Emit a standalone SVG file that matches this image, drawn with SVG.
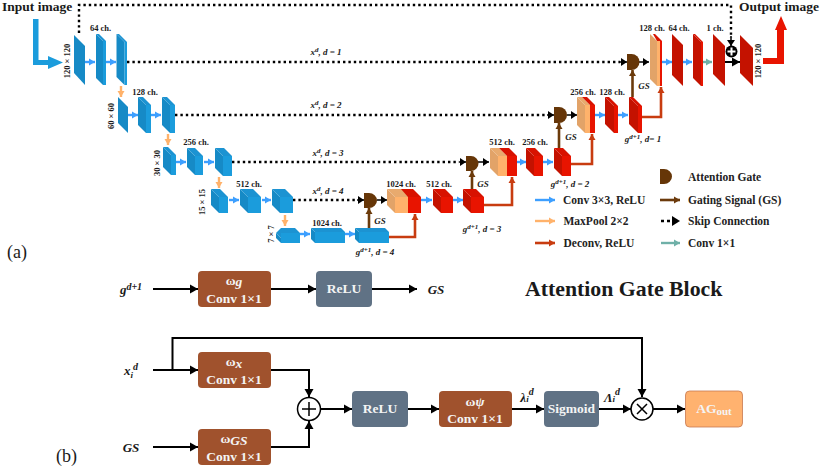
<svg xmlns="http://www.w3.org/2000/svg" width="820" height="468" viewBox="0 0 820 468">
<style>
text{font-family:"Liberation Serif","Times New Roman",serif;font-weight:bold;fill:#1a1a1a}
.ch{font-size:8.5px;text-anchor:middle}
.dim{font-size:8.5px;text-anchor:middle}
.it{font-style:italic;font-size:9px;text-anchor:middle}
.lg{font-size:11.5px;fill:#222}
.big{font-size:13.5px}
.bx{font-size:13.5px;fill:#f4f4f4;text-anchor:middle}
.lab{font-style:italic;font-size:13px;text-anchor:middle}
.bs{fill:#168ac6}.bt{fill:#1c93d2}.bf{fill:#1b9cdc}
.rs{fill:#c41200}.rt{fill:#d81200}.rf{fill:#e81400}
.os{fill:#e2a368}.ot{fill:#e8aa6e}.of{fill:#ffb26b}
.gate{fill:#663608}
.skip{stroke:#000;stroke-width:2.4;stroke-dasharray:2.4 3;fill:none}
.conv{stroke:#3d9fff;stroke-width:2.4;fill:none;marker-end:url(#mb)}
.pool{stroke:#ffb26b;stroke-width:2.4;fill:none;marker-end:url(#mo)}
.dec{stroke:#c83c10;stroke-width:2.6;fill:none;marker-end:url(#md)}
.gs{stroke:#6b3a0b;stroke-width:2.6;fill:none;marker-end:url(#mg)}
.c1{stroke:#6fb0a8;stroke-width:2.4;fill:none;marker-end:url(#mt)}
.blk{stroke:#000;stroke-width:2;fill:none;marker-end:url(#mk)}
.sk{stroke:#000;stroke-width:1.5;fill:none;marker-end:url(#ms)}
.bl{stroke:#000;stroke-width:1.5;fill:none}
.brn{fill:#a0522d}.sl{fill:#607285}
</style>
<defs>
<marker id="mb" markerUnits="userSpaceOnUse" markerWidth="8" markerHeight="8" refX="6" refY="4" orient="auto"><path d="M0,.5L6,4L0,7.5z" fill="#3d9fff"/></marker>
<marker id="mo" markerUnits="userSpaceOnUse" markerWidth="8" markerHeight="8" refX="6" refY="4" orient="auto"><path d="M0,.5L6,4L0,7.5z" fill="#ffb26b"/></marker>
<marker id="md" markerUnits="userSpaceOnUse" markerWidth="8" markerHeight="8" refX="6" refY="4" orient="auto"><path d="M0,.5L6,4L0,7.5z" fill="#c83c10"/></marker>
<marker id="mg" markerUnits="userSpaceOnUse" markerWidth="8" markerHeight="8" refX="6" refY="4" orient="auto"><path d="M0,.5L6,4L0,7.5z" fill="#6b3a0b"/></marker>
<marker id="mt" markerUnits="userSpaceOnUse" markerWidth="8" markerHeight="8" refX="6" refY="4" orient="auto"><path d="M0,.5L6,4L0,7.5z" fill="#6fb0a8"/></marker>
<marker id="mk" markerUnits="userSpaceOnUse" markerWidth="10" markerHeight="10" refX="8" refY="5" orient="auto"><path d="M0,.5L8,5L0,9.500z" fill="#000"/></marker>
<marker id="ms" markerUnits="userSpaceOnUse" markerWidth="8" markerHeight="10" refX="6" refY="4" orient="auto"><path d="M0,0L6,4L0,8z" fill="#000"/></marker>
</defs>

<g id="connectors">
<path class="skip" d="M79,33V5H731V38"/>
<path class="sk" d="M731,36V46"/>
<path class="skip" d="M127,62H620"/><path class="sk" d="M620,62H627"/><path class="sk" d="M639,62H649"/>
<path class="skip" d="M175,115H547"/><path class="sk" d="M547,115H554"/><path class="sk" d="M567,115H577"/>
<path class="skip" d="M232,162H459"/><path class="sk" d="M459,162H466"/><path class="sk" d="M478,162H489"/>
<path class="skip" d="M293,200H357"/><path class="sk" d="M357,200H364"/><path class="sk" d="M377,200H387"/>
<path class="conv" d="M85,62H95"/><path class="conv" d="M106,62H116"/>
<path class="conv" d="M128,115H138"/><path class="conv" d="M151,115H161"/>
<path class="conv" d="M176,162H186"/><path class="conv" d="M204,162H214"/>
<path class="conv" d="M229,200H239"/><path class="conv" d="M262,200H271"/>
<path class="conv" d="M300,234H310"/><path class="conv" d="M345,234H355"/>
<path class="conv" d="M421,200H432"/><path class="conv" d="M453,200H463"/>
<path class="conv" d="M517,162H526"/><path class="conv" d="M543,162H553"/>
<path class="conv" d="M595,115H605"/><path class="conv" d="M618,115H628"/>
<path class="conv" d="M662,62H672"/><path class="conv" d="M683,62H692"/>
<path class="c1" d="M703,62H712"/>
<path class="blk" d="M725,62H740"/>
<path class="pool" d="M121,86V97"/><path class="pool" d="M168,134V145"/><path class="pool" d="M219,177V188"/><path class="pool" d="M285,215V226"/>
<path class="dec" d="M389,237H415V214"/><path class="dec" d="M484,205H512V177"/><path class="dec" d="M571,164H592V134"/><path class="dec" d="M642,117H661V87"/>
<path class="gs" d="M369,228V208"/><path class="gs" d="M472,189V171"/><path class="gs" d="M559,148V123"/><path class="gs" d="M632.500,97V70"/>
<path class="conv" d="M535,200H555"/>
<path class="pool" d="M535,221H555"/>
<path class="dec" d="M535,243H555"/>
<path class="gs" d="M660,200H680"/>
<path class="c1" d="M661,243H680"/>
<path d="M661,221h3M667,221h3" stroke="#000" stroke-width="2.400"/>
<path d="M672,216L680,221L672,226z" fill="#000"/>

<path class="blk" d="M153,289H198"/><path class="blk" d="M271,289H316"/><path class="blk" d="M372,289H417"/>
<path class="blk" d="M153,370H198"/>
<path class="blk" d="M172.500,370V338H642V397"/>
<path class="blk" d="M271,370H309V397"/>
<path class="blk" d="M153,447H198"/>
<path class="blk" d="M271,447H309V421"/>
<path class="blk" d="M320,409H352"/><path class="blk" d="M408,409H439"/><path class="blk" d="M512,409H544"/><path class="blk" d="M599,409H631"/><path class="blk" d="M653,409H685"/>
</g>

<g id="input-arrow"><path d="M33,19H38.500V60H48V56L63,62.500L48,69V65H33z" fill="#1b9cdc"/></g>
<g id="output-arrow"><path d="M763,58H777V30H775L781,16L787,30H784V64H763z" fill="#e81400"/></g>

<g id="e1a"><polygon class="bs" points="74,35 85,46 85,85 74,73"/></g>
<g id="e1b"><polygon class="bs" points="96,34 103,41 103,85 96,78"/><polygon class="bt" points="96,34 99,34 106,41 103,41"/><rect class="bf" x="103" y="41" width="3" height="44"/></g>
<g id="e1c"><polygon class="bs" points="116.500,34 124.500,42 124.500,85 116.500,77"/><polygon class="bt" points="116.500,34 119,34 127,42 124.500,42"/><rect class="bf" x="124.500" y="42" width="2.500" height="43"/></g>
<g id="e2a"><polygon class="bs" points="118,97 128,107 128,133 118,123"/></g>
<g id="e2b"><polygon class="bs" points="138,97 146,105 146,133 138,125"/><polygon class="bt" points="138,97 143,97 151,105 146,105"/><rect class="bf" x="146" y="105" width="5" height="28"/></g>
<g id="e2c"><polygon class="bs" points="162,97 170,105 170,133 162,125"/><polygon class="bt" points="162,97 167,97 175,105 170,105"/><rect class="bf" x="170" y="105" width="5" height="28"/></g>
<g id="e3a"><polygon class="bs" points="163,147 171,155 171,175 163,167"/><polygon class="bt" points="163,147 168,147 176,155 171,155"/><rect class="bf" x="171" y="155" width="5" height="20"/></g>
<g id="e3b"><polygon class="bs" points="187,148 195,156 195,175 187,167"/><polygon class="bt" points="187,148 195,148 203,156 195,156"/><rect class="bf" x="195" y="156" width="8" height="19"/></g>
<g id="e3c"><polygon class="bs" points="215,148 223,156 223,176 215,168"/><polygon class="bt" points="215,148 224,148 232,156 223,156"/><rect class="bf" x="223" y="156" width="9" height="20"/></g>
<g id="e4a"><polygon class="bs" points="211,189 219,197 219,213 211,205"/><polygon class="bt" points="211,189 220,189 228,197 219,197"/><rect class="bf" x="219" y="197" width="9" height="16"/></g>
<g id="e4b"><polygon class="bs" points="240,189 248,197 248,213 240,205"/><polygon class="bt" points="240,189 253,189 261,197 248,197"/><rect class="bf" x="248" y="197" width="13" height="16"/></g>
<g id="e4c"><polygon class="bs" points="272,189 280,197 280,213 272,205"/><polygon class="bt" points="272,189 285,189 293,197 280,197"/><rect class="bf" x="280" y="197" width="13" height="16"/></g>
<g id="e5a"><polygon class="bs" points="276,233 281,238 281,243 276,238"/><polygon class="bt" points="276,233 281,228 295,228 300,233 281,238"/><rect class="bf" x="281" y="233" width="19" height="10"/></g>
<g id="e5b"><polygon class="bs" points="311,228 315,232 315,243 311,239"/><polygon class="bt" points="311,228 341,228 345,232 315,232"/><rect class="bf" x="315" y="232" width="30" height="11"/></g>
<g id="e5c"><polygon class="bs" points="355,228 359,232 359,243 355,239"/><polygon class="bt" points="355,228 385,228 389,232 359,232"/><rect class="bf" x="359" y="232" width="30" height="11"/></g>

<g id="d4c"><polygon class="os" points="387,189 395,197 395,213 387,205"/><polygon class="ot" points="387,189 402,189 410,197 395,197"/><rect class="of" x="395" y="197" width="13" height="16"/><polygon class="rt" points="401,189 413,189 421,197 408,197"/><rect class="rf" x="408" y="197" width="13" height="16"/></g>
<g id="d4a"><polygon class="rs" points="433,189 441,197 441,213 433,205"/><polygon class="rt" points="433,189 445,189 453,197 441,197"/><rect class="rf" x="441" y="197" width="12" height="16"/></g>
<g id="d4b"><polygon class="rs" points="463,189 471,197 471,213 463,205"/><polygon class="rt" points="463,189 476,189 484,197 471,197"/><rect class="rf" x="471" y="197" width="13" height="16"/></g>
<g id="d3c"><polygon class="os" points="490,148 498,156 498,176 490,168"/><polygon class="ot" points="490,148 499,148 507,156 498,156"/><rect class="of" x="498" y="156" width="9" height="20"/><polygon class="rt" points="499,148 509,148 517,156 507,156"/><rect class="rf" x="507" y="156" width="10" height="20"/></g>
<g id="d3a"><polygon class="rs" points="526,148 534,156 534,176 526,168"/><polygon class="rt" points="526,148 535,148 543,156 534,156"/><rect class="rf" x="534" y="156" width="9" height="20"/></g>
<g id="d3b"><polygon class="rs" points="554,148 562,156 562,176 554,168"/><polygon class="rt" points="554,148 563,148 571,156 562,156"/><rect class="rf" x="562" y="156" width="9" height="20"/></g>
<g id="d2c"><polygon class="os" points="577,97 585,105 585,133 577,125"/><polygon class="ot" points="577,97 582,97 590,105 585,105"/><rect class="of" x="585" y="105" width="5" height="28"/><polygon class="rt" points="582,97 587,97 595,105 590,105"/><rect class="rf" x="590" y="105" width="5" height="28"/></g>
<g id="d2a"><polygon class="rs" points="605,97 614,106 614,133 605,124"/><polygon class="rt" points="605,97 609,97 618,106 614,106"/><rect class="rf" x="614" y="106" width="4" height="27"/></g>
<g id="d2b"><polygon class="rs" points="629,97 638,106 638,133 629,124"/><polygon class="rt" points="629,97 633,97 642,106 638,106"/><rect class="rf" x="638" y="106" width="4" height="27"/></g>
<g id="d1c"><polygon class="os" points="650,34 657,41 657,86 650,79"/><polygon class="rt" points="653,34 655,34 662,41 657,41"/><rect class="of" x="657" y="41" width="3" height="45"/><rect class="rf" x="660" y="41" width="2" height="45"/></g>
<g id="d1a"><polygon class="rs" points="672,34 683,45 683,86 672,75"/></g>
<g id="d1b"><polygon class="rs" points="693,34 701,42 701,86 693,78"/><polygon class="rt" points="693,34 695,34 703,42 701,42"/><rect class="rf" x="701" y="42" width="2" height="44"/></g>
<g id="d1d"><polygon class="rs" points="713,34 725,46 725,86 713,74"/></g>
<g id="d0"><polygon class="rs" points="740,35 753,48 753,86 740,73"/></g>

<g id="gate4"><path class="gate" d="M364,193H369A8,7.500 0 0 1 369,208H364z"/></g>
<g id="gate3"><path class="gate" d="M466,156H471A7.500,7.500 0 0 1 471,171H466z"/></g>
<g id="gate2"><path class="gate" d="M554,107H559A8,8 0 0 1 559,123H554z"/></g>
<g id="gate1"><path class="gate" d="M627,54H631.500A8,8 0 0 1 631.500,70H627z"/></g>
<g id="add"><circle cx="731.500" cy="51.500" r="6" fill="#000"/><path d="M727.500,51.500h8M731.500,47.500v8" stroke="#fff" stroke-width="2"/></g>
<g id="legend-gate"><path class="gate" d="M660,169H664A8,7.500 0 0 1 664,184H660z"/></g>

<text class="big" x="2" y="11">Input image</text>
<text class="big" x="739" y="11">Output image</text>
<text class="ch" x="100.500" y="31">64 ch.</text>
<text class="ch" x="145" y="95">128 ch.</text>
<text class="ch" x="196" y="145">256 ch.</text>
<text class="ch" x="249" y="187">512 ch.</text>
<text class="ch" x="327" y="226">1024 ch.</text>
<text class="ch" x="401" y="187">1024 ch.</text>
<text class="ch" x="439" y="187">512 ch.</text>
<text class="ch" x="502" y="145">512 ch.</text>
<text class="ch" x="535" y="145">256 ch.</text>
<text class="ch" x="583" y="95">256 ch.</text>
<text class="ch" x="612" y="95">128 ch.</text>
<text class="ch" x="652" y="31">128 ch.</text>
<text class="ch" x="679" y="31">64 ch.</text>
<text class="ch" x="715" y="31">1 ch.</text>
<text class="dim" transform="translate(70,61) rotate(-90)">120 × 120</text>
<text class="dim" transform="translate(114,116) rotate(-90)">60 × 60</text>
<text class="dim" transform="translate(159.500,163) rotate(-90)">30 × 30</text>
<text class="dim" transform="translate(205,202) rotate(-90)">15 × 15</text>
<text class="dim" transform="translate(273.500,234) rotate(-90)">7 × 7</text>
<text class="dim" transform="translate(761,61) rotate(-90)">120 × 120</text>
<text class="it" x="326" y="55">x<tspan font-size="7" dy="-3">d</tspan><tspan dy="3">, d = 1</tspan></text>
<text class="it" x="326" y="108">x<tspan font-size="7" dy="-3">d</tspan><tspan dy="3">, d = 2</tspan></text>
<text class="it" x="328" y="156">x<tspan font-size="7" dy="-3">d</tspan><tspan dy="3">, d = 3</tspan></text>
<text class="it" x="328" y="194">x<tspan font-size="7" dy="-3">d</tspan><tspan dy="3">, d = 4</tspan></text>
<text class="it" x="375" y="255">g<tspan font-size="7" dy="-3">d+1</tspan><tspan dy="3">, d = 4</tspan></text>
<text class="it" x="482" y="232">g<tspan font-size="7" dy="-3">d+1</tspan><tspan dy="3">, d = 3</tspan></text>
<text class="it" x="570" y="187">g<tspan font-size="7" dy="-3">d+1</tspan><tspan dy="3">, d = 2</tspan></text>
<text class="it" x="643" y="142">g<tspan font-size="7" dy="-3">d+1</tspan><tspan dy="3">, d= 1</tspan></text>
<text class="it" x="380" y="224">GS</text>
<text class="it" x="483" y="187">GS</text>
<text class="it" x="571" y="140">GS</text>
<text class="it" x="644" y="89">GS</text>

<text class="lg" x="563" y="204">Conv 3×3, ReLU</text>
<text class="lg" x="563.500" y="225">MaxPool 2×2</text>
<text class="lg" x="563.500" y="247">Deconv, ReLU</text>
<text class="lg" x="688" y="181">Attention Gate</text>
<text class="lg" x="688" y="204">Gating Signal (GS)</text>
<text class="lg" x="688" y="225">Skip Connection</text>
<text class="lg" x="688" y="247">Conv 1×1</text>
<text x="7" y="258" font-size="18" style="font-weight:normal">(a)</text>
<text x="56" y="462" font-size="18" style="font-weight:normal">(b)</text>
<text x="525" y="296" font-size="21.800">Attention Gate Block</text>

<g id="bg"><rect class="brn" x="198" y="271" width="73" height="36" rx="4"/><text class="bx" x="234" y="285">ω<tspan font-style="italic" dy="1">g</tspan></text><text class="bx" x="234" y="303">Conv 1×1</text></g>
<g id="br1"><rect class="sl" x="316" y="271" width="56" height="36" rx="4"/><text class="bx" x="344" y="293">ReLU</text></g>
<g id="bx"><rect class="brn" x="198" y="352" width="73" height="36" rx="4"/><text class="bx" x="234" y="366">ω<tspan font-style="italic" dy="2">x</tspan></text><text class="bx" x="234" y="384">Conv 1×1</text></g>
<g id="bgs"><rect class="brn" x="198" y="429" width="73" height="36" rx="4"/><text class="bx" x="234" y="443">ω<tspan font-style="italic" dy="2">GS</tspan></text><text class="bx" x="234" y="461">Conv 1×1</text></g>
<g id="plus"><circle cx="309" cy="409" r="11.500" fill="#fff" stroke="#000" stroke-width="1.500"/><path class="bl" d="M302,409h14M309,402v14"/></g>
<g id="br2"><rect class="sl" x="352" y="391" width="56" height="36" rx="4"/><text class="bx" x="380" y="413">ReLU</text></g>
<g id="bpsi"><rect class="brn" x="439" y="391" width="73" height="36" rx="4"/><text class="bx" x="475" y="406">ω<tspan font-style="italic">ψ</tspan></text><text class="bx" x="475" y="423">Conv 1×1</text></g>
<g id="bsig"><rect class="sl" x="544" y="391" width="55" height="36" rx="4"/><text class="bx" x="571.500" y="413">Sigmoid</text></g>
<g id="times"><circle cx="642" cy="409" r="11" fill="#fff" stroke="#000" stroke-width="1.500"/><path class="bl" d="M637,404l10,10M647,404l-10,10"/></g>
<g id="bag"><rect x="685.500" y="391" width="57" height="36" rx="4" fill="#ffb26f" stroke="#c87850" stroke-width=".8"/><text class="bx" x="714" y="413">AG<tspan font-size="11" dy="2">out</tspan></text></g>

<text class="lab" x="131" y="294">g<tspan font-size="10" dy="-4">d+1</tspan></text>
<text class="lab" x="436" y="294">GS</text>
<text class="lab" x="131" y="375">x<tspan font-size="9" dy="3">i</tspan><tspan font-size="10" dy="-8">d</tspan></text>
<text class="lab" x="131" y="452">GS</text>
<text class="lab" x="527" y="402">λ<tspan font-size="9">i</tspan><tspan font-size="10" dy="-7">d</tspan></text>
<text class="lab" x="612" y="402">Λ<tspan font-size="9">i</tspan><tspan font-size="10" dy="-7">d</tspan></text>
</svg>
